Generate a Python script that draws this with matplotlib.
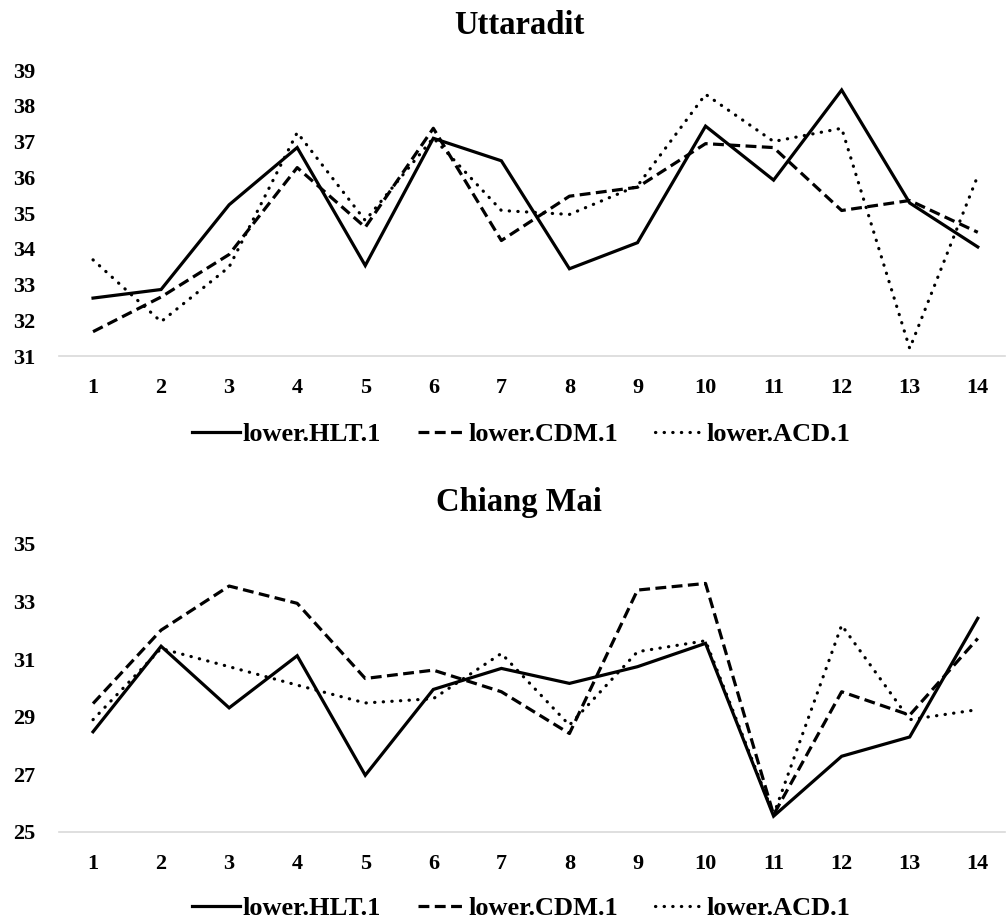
import matplotlib
matplotlib.use("Agg")
import matplotlib.pyplot as plt
from matplotlib.lines import Line2D

plt.rcParams['font.family'] = ['Liberation Serif', 'DejaVu Serif']
plt.rcParams['font.weight'] = 'bold'

categories = list(range(1, 15))
series_names = ["lower.HLT.1", "lower.CDM.1", "lower.ACD.1"]

utt_hlt = [32.62, 32.86, 35.23, 36.83, 33.53, 37.09, 36.46, 33.44, 34.17, 37.43, 35.92, 38.44, 35.28, 34.05]
utt_cdm = [31.68, 32.65, 33.84, 36.27, 34.60, 37.37, 34.23, 35.47, 35.72, 36.94, 36.83, 35.07, 35.35, 34.46]
utt_acd = [33.69, 31.96, 33.49, 37.25, 34.79, 37.10, 35.07, 34.96, 35.76, 38.32, 37.00, 37.37, 31.21, 36.04]

cm_hlt = [28.48, 31.45, 29.31, 31.12, 26.97, 29.95, 30.68, 30.16, 30.74, 31.55, 25.55, 27.63, 28.30, 32.42]
cm_cdm = [29.46, 32.01, 33.54, 32.94, 30.33, 30.62, 29.87, 28.42, 33.40, 33.63, 25.60, 29.87, 29.06, 31.72]
cm_acd = [28.90, 31.37, 30.74, 30.10, 29.48, 29.63, 31.20, 28.71, 31.26, 31.64, 25.60, 32.18, 28.90, 29.25]

utt_yticks = list(range(31, 40))
cm_yticks = [25, 27, 29, 31, 33, 35]

W, H = 1007, 922
fig = plt.figure(figsize=(W / 100, H / 100), dpi=100)

styles = [
    dict(linestyle='-', linewidth=2.3, solid_joinstyle='miter'),
    dict(linestyle=(0, (3.4, 1.7)), linewidth=2.3, dash_capstyle='butt'),
    dict(linestyle=(0, (0.1, 2.6)), linewidth=2.3, dash_capstyle='round'),
]


def make_ax(bottom_px, top_px, data, yticks, title, title_pos, legend_pos):
    left, right = 59, 1005
    ax = fig.add_axes([left / W, 1 - bottom_px / H, (right - left) / W, (bottom_px - top_px) / H])
    for vals, st, name in zip(data, styles, series_names):
        ax.plot(categories, vals, color='black', label=name, **st)
    ax.set_xlim(0.5, 14.4)
    ax.set_ylim(yticks[0], yticks[-1])
    ax.set_xticks(categories)
    ax.set_yticks(yticks)
    ax.tick_params(axis='both', length=0, labelsize=16)
    ax.tick_params(axis='y', pad=17)
    ax.tick_params(axis='x', pad=16)
    for lab in ax.get_xticklabels() + ax.get_yticklabels():
        lab.set_fontweight('bold')
    for s in ['top', 'right', 'left']:
        ax.spines[s].set_visible(False)
    ax.spines['bottom'].set_color('#d9d9d9')
    ax.spines['bottom'].set_linewidth(1.2)
    fig.text(title_pos[0] / W, 1 - title_pos[1] / H, title, ha='center', va='center',
             fontsize=23.5, fontweight='bold')
    handles = [Line2D([0], [0], color='black', **st) for st in styles]
    fig.legend(handles, series_names, loc='center',
               bbox_to_anchor=(legend_pos[0] / W, 1 - legend_pos[1] / H),
               ncol=3, frameon=False, prop=dict(size=19, weight='bold'),
               handlelength=1.8, handletextpad=0.12, columnspacing=1.4,
               borderpad=0, borderaxespad=0)
    return ax


make_ax(356, 70, [utt_hlt, utt_cdm, utt_acd], utt_yticks, "Uttaradit", (519, 26), (521, 434))
make_ax(832, 544, [cm_hlt, cm_cdm, cm_acd], cm_yticks, "Chiang Mai", (519, 502), (521, 908))

fig.savefig("out.png", dpi=100)
